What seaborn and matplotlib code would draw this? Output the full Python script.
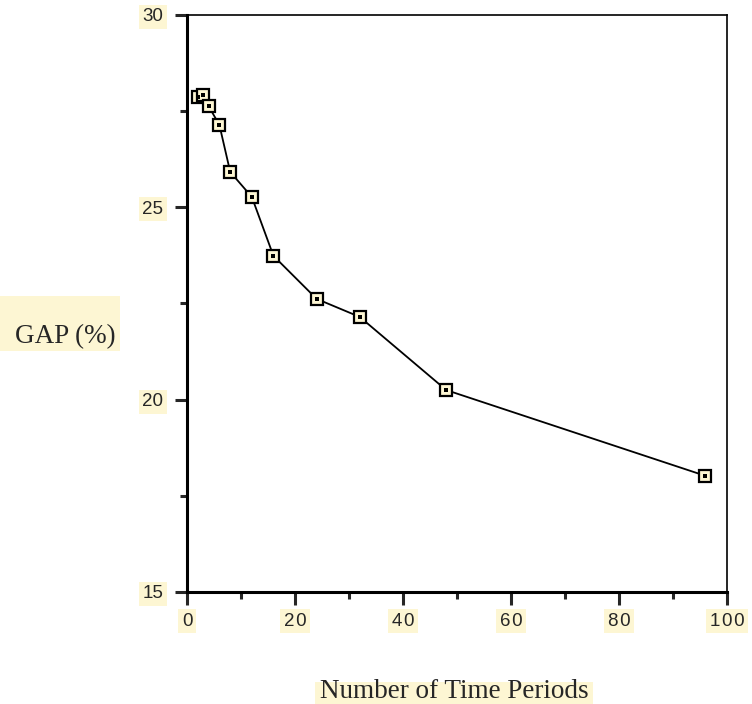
import matplotlib
matplotlib.use("Agg")
import matplotlib.pyplot as plt
import seaborn as sns
import pandas as pd
from matplotlib.ticker import MultipleLocator
from matplotlib.patches import Rectangle

# values
periods = [2, 3, 4, 6, 8, 12, 16, 24, 32, 48, 96]
gap = [27.87, 27.92, 27.63, 27.14, 25.92, 25.27, 23.74, 22.62, 22.15, 20.25, 18.02]
x_ticks = [0, 20, 40, 60, 80, 100]
x_labels = ["0", "2\u200a0", "4\u200a0", "6\u200a0", "8\u200a0", "1\u200a0\u200a0"]
y_ticks = [15, 20, 25, 30]

df = pd.DataFrame({"periods": periods, "gap": gap})
cream = "#fdf6d3"

sns.set_style("white")
plt.rcParams["font.family"] = ["Liberation Sans", "DejaVu Sans"]

fig = plt.figure(figsize=(7.52, 7.04), dpi=100)
ax = fig.add_axes([0.2487, 0.1591, 0.718, 0.8196])

sns.lineplot(data=df, x="periods", y="gap", ax=ax, color="black", linewidth=1.3,
             marker="s", markersize=8.5, markerfacecolor=cream,
             markeredgecolor="black", markeredgewidth=1.6)
sns.scatterplot(data=df, x="periods", y="gap", ax=ax, color="black",
                marker="s", s=6, linewidth=0, zorder=5)

ax.set_xlim(0, 100)
ax.set_ylim(15, 30)
ax.set_xticks(x_ticks, x_labels)
ax.set_yticks(y_ticks)
ax.xaxis.set_minor_locator(MultipleLocator(10))
ax.yaxis.set_minor_locator(MultipleLocator(2.5))

for side in ["left", "bottom"]:
    ax.spines[side].set_linewidth(2.2)
for side in ["top", "right"]:
    ax.spines[side].set_linewidth(1.2)
for side in ax.spines:
    ax.spines[side].set_color("black")

ax.tick_params(which="major", direction="out", length=9, width=2.2,
               left=True, bottom=True, labelsize=13.5)
ax.tick_params(axis="y", which="major", pad=8)
ax.tick_params(axis="x", which="major", pad=6)
ax.tick_params(which="minor", direction="out", length=5, width=2.2,
               left=True, bottom=True)

for lab in ax.get_xticklabels() + ax.get_yticklabels():
    lab.set_bbox(dict(facecolor=cream, edgecolor="none", pad=2.5))

ax.set_xlabel("")
ax.set_ylabel("")

# axis titles sit on cream boxes, as in the reference
fig.add_artist(Rectangle((0.0, 0.5014), 0.1596, 0.078, transform=fig.transFigure,
                         facecolor=cream, edgecolor="none", zorder=0))
fig.text(0.0864, 0.5128, "GAP (%)", family="Liberation Serif", fontsize=19.5,
         ha="center", va="baseline")
fig.add_artist(Rectangle((0.419, 0.0), 0.37, 0.0313, transform=fig.transFigure,
                         facecolor=cream, edgecolor="none", zorder=0))
fig.text(0.604, 0.0085, "Number of Time Periods", family="Liberation Serif",
         fontsize=19.5, ha="center", va="baseline")

fig.savefig("out.png", dpi=100)
